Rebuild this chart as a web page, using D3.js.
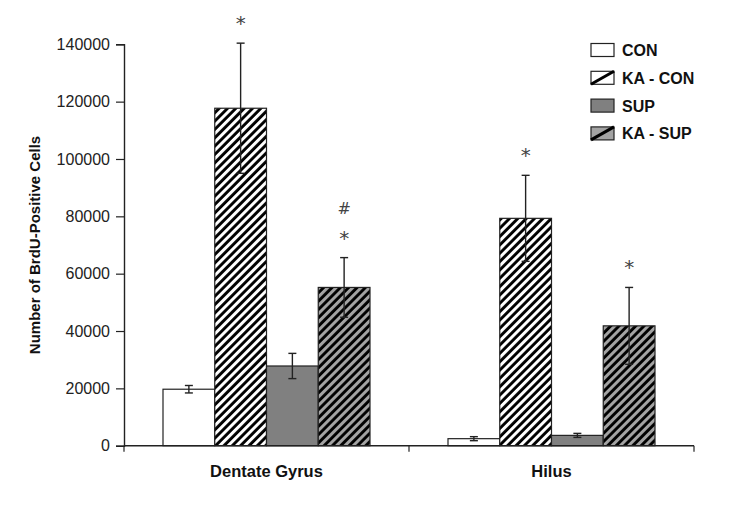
<!DOCTYPE html>
<html><head><meta charset="utf-8">
<script src="https://cdn.jsdelivr.net/npm/d3@7"></script>
<style>body{margin:0;background:#fff}svg{display:block;font-family:"Liberation Sans",Arial,sans-serif}</style>
</head><body>
<svg id="c" width="750" height="509"></svg>
<script>
const categories = ["Dentate Gyrus", "Hilus"];
const seriesNames = ["CON", "KA - CON", "SUP", "KA - SUP"];
const values = {
  "CON":      [19700, 2450],
  "KA - CON": [117700, 79300],
  "SUP":      [27800, 3600],
  "KA - SUP": [55200, 41800]
};
const errors = {
  "CON":      [1300, 700],
  "KA - CON": [22700, 15000],
  "SUP":      [4400, 700],
  "KA - SUP": [10400, 13400]
};
const marks = {
  "CON":      ["", ""],
  "KA - CON": ["*", "*"],
  "SUP":      ["", ""],
  "KA - SUP": ["#\n*", "*"]
};
const yTicks = [0, 20000, 40000, 60000, 80000, 100000, 120000, 140000];
const yTitle = "Number of BrdU-Positive Cells";

const svg = d3.select("#c");
const defs = svg.append("defs");
function hatch(id, bg) {
  const p = defs.append("pattern").attr("id", id).attr("patternUnits", "userSpaceOnUse")
    .attr("width", 5.9).attr("height", 5.9).attr("patternTransform", "rotate(45)");
  p.append("rect").attr("width", 5.9).attr("height", 5.9).attr("fill", bg);
  p.append("line").attr("x1", 1.5).attr("x2", 1.5).attr("y1", 0).attr("y2", 5.9)
    .attr("stroke", "#000").attr("stroke-width", 2.9);
}
hatch("hw", "#fff");
hatch("hg", "#a3a3a3");
const fills = {"CON": "#fff", "KA - CON": "url(#hw)", "SUP": "#808080", "KA - SUP": "url(#hg)"};

const pLeft = 124, pRight = 694, pTop = 44.3, pBottom = 445.7;
const x0 = d3.scaleBand().domain(categories).range([pLeft, pRight]).paddingInner(0).paddingOuter(0);
const groupPad = 39;
const x1 = d3.scaleBand().domain(seriesNames).range([groupPad, x0.bandwidth() - groupPad]).padding(0);
const y = d3.scaleLinear().domain([0, 140000]).range([pBottom, pTop]);

// bars
const g = svg.append("g");
categories.forEach((c, ci) => {
  seriesNames.forEach(s => {
    const v = values[s][ci], e = errors[s][ci];
    const bx = x0(c) + x1(s), bw = x1.bandwidth();
    g.append("rect").attr("x", bx).attr("y", y(v)).attr("width", bw).attr("height", y(0) - y(v))
      .attr("fill", fills[s]).attr("stroke", "#222").attr("stroke-width", 1.2);
    const cx = bx + bw / 2;
    g.append("line").attr("x1", cx).attr("x2", cx).attr("y1", y(v + e)).attr("y2", y(v - e))
      .attr("stroke", "#222").attr("stroke-width", 1.4);
    [v + e, v - e].forEach(t => g.append("line").attr("x1", cx - 4).attr("x2", cx + 4)
      .attr("y1", y(t)).attr("y2", y(t)).attr("stroke", "#222").attr("stroke-width", 1.4));
    const m = marks[s][ci];
    if (m) {
      const lines = m.split("\n");
      const topY = y(v + e);
      lines.forEach((ln, li) => {
        const isStar = ln === "*";
        const yy = isStar ? topY - 13 : topY - 44;
        g.append("text").attr("x", cx).attr("y", yy).attr("text-anchor", "middle")
          .attr("font-family", "'DejaVu Sans', sans-serif")
          .attr("font-size", isStar ? 20 : 16).attr("fill", "#444").text(ln);
      });
    }
  });
});

// y axis
const ya = svg.append("g").attr("transform", `translate(${pLeft},0)`)
  .call(d3.axisLeft(y).tickValues(yTicks).tickFormat(d3.format("d")).tickSizeOuter(0).tickSize(8).tickPadding(6));
ya.select(".domain").attr("stroke", "#222").attr("stroke-width", 1.4);
ya.selectAll(".tick line").attr("stroke", "#222").attr("stroke-width", 1.2);
ya.selectAll(".tick text").attr("font-size", 16).attr("fill", "#222").attr("font-family", "'Liberation Sans', Arial, sans-serif");

// x axis
const xa = svg.append("g");
xa.append("line").attr("x1", pLeft).attr("x2", pRight).attr("y1", pBottom).attr("y2", pBottom)
  .attr("stroke", "#222").attr("stroke-width", 1.4);
[pLeft, ...categories.map(c => x0(c) + x0.bandwidth())].forEach(t =>
  xa.append("line").attr("x1", t).attr("x2", t).attr("y1", pBottom).attr("y2", pBottom + 6)
    .attr("stroke", "#222").attr("stroke-width", 1.2));
categories.forEach(c => xa.append("text").attr("x", x0(c) + x0.bandwidth() / 2).attr("y", pBottom + 31)
  .attr("text-anchor", "middle").attr("font-size", 16.5).attr("font-weight", "bold").attr("fill", "#111").text(c));

// y title
svg.append("text").attr("transform", `translate(40,${(pTop + pBottom) / 2}) rotate(-90)`)
  .attr("text-anchor", "middle").attr("font-size", 15).attr("font-weight", "bold").attr("fill", "#111").text(yTitle);

// legend
const lg = svg.append("g");
seriesNames.forEach((s, i) => {
  const cy = 50 + i * 27.8;
  const bg = (s === "SUP" || s === "KA - SUP") ? (s === "SUP" ? "#808080" : "#a3a3a3") : "#fff";
  lg.append("rect").attr("x", 591).attr("y", cy - 6.5).attr("width", 23).attr("height", 13)
    .attr("fill", bg).attr("stroke", "#222").attr("stroke-width", 1.2);
  if (s.startsWith("KA")) {
    lg.append("line").attr("x1", 591).attr("y1", cy + 6.5).attr("x2", 614).attr("y2", cy - 6.5)
      .attr("stroke", "#000").attr("stroke-width", 3);
  }
  lg.append("text").attr("x", 622).attr("y", cy + 6).attr("font-size", 16).attr("font-weight", "bold")
    .attr("fill", "#111").text(s);
});
</script>
</body></html>
